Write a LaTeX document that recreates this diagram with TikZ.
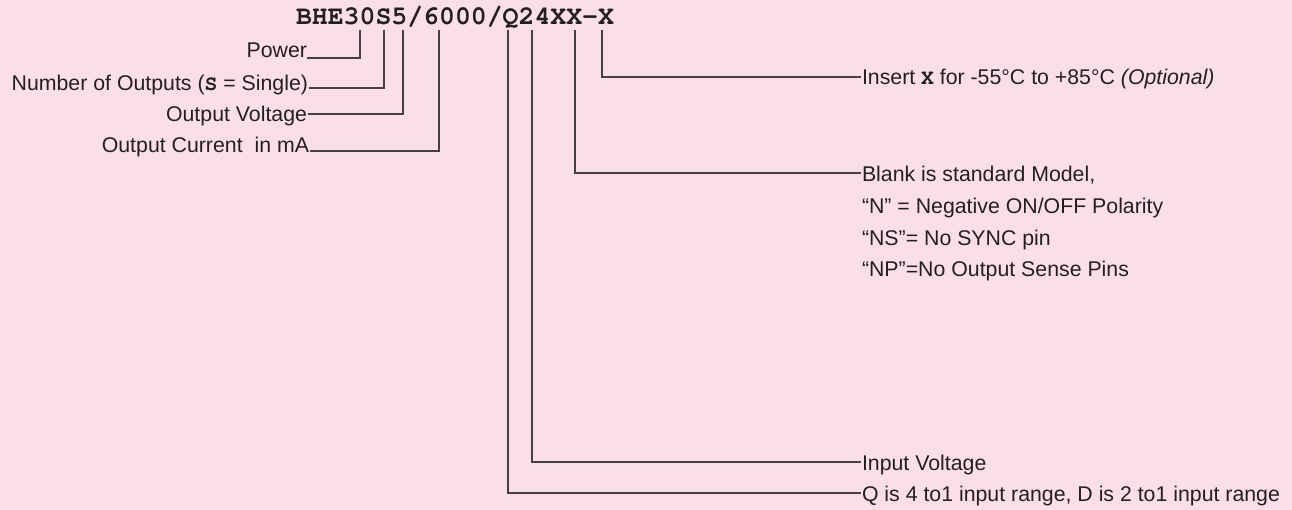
\documentclass[tikz,border=0pt]{standalone}
\usepackage{fontspec}
\setmainfont{Liberation Sans}
\newfontfamily\monofont{TeX Gyre Cursor}
\definecolor{bg}{RGB}{252,222,233}
\definecolor{ink}{RGB}{35,31,32}
\definecolor{wire}{RGB}{72,62,68}
\tikzset{
  lbl/.style={inner sep=0pt, outer sep=0pt, text=ink, font=\fontsize{21.3}{25}\selectfont},
  lblL/.style={lbl, anchor=base east},
  lblR/.style={lbl, anchor=base west},
  conn/.style={draw=wire, line width=1.4pt, line join=miter}
}
\newcommand{\mb}[1]{{\monofont\bfseries #1}}
\begin{document}
\begin{tikzpicture}[x=1pt,y=-1pt]
\fill[bg] (0,0) rectangle (1292,510);
\useasboundingbox (0,0) rectangle (1292,510);
% title
\node[lbl, anchor=base west, font=\fontsize{26.5}{30}\selectfont\monofont\bfseries] (title) at (296,25) {BHE30S5/6000/Q24XX-X};
% tops of leaders
\coordinate (tPow) at (360,30);
\coordinate (tNum) at (384,30);
\coordinate (tOV) at (403,30);
\coordinate (tOC) at (439,30);
\coordinate (tQ) at (508,30);
\coordinate (tIV) at (532,30);
\coordinate (tBl) at (575,30);
\coordinate (tIns) at (602,30);
% left labels
\node[lblL] (pow) at (307,58) {Power};
\node[lblL] (num) at (308,91) {Number of Outputs (\mb{S} = Single)};
\node[lblL] (ov) at (307,122) {Output Voltage};
\node[lblL] (oc) at (309,153) {Output Current\ \ in mA};
\coordinate (ePow) at (307,58);
\coordinate (eNum) at (309,88);
\coordinate (eOV) at (308,114);
\coordinate (eOC) at (310,151);
% right labels
\node[lblR] (ins) at (862,85) {Insert \mb{X} for -55°C to +85°C \textit{(Optional)}};
\node[lblR] (bl1) at (862,182) {Blank is standard Model,};
\node[lblR] (bl2) at (862,213.7) {“N” = Negative ON/OFF Polarity};
\node[lblR] (bl3) at (862,245.4) {“NS”= No SYNC pin};
\node[lblR] (bl4) at (862,277) {“NP”=No Output Sense Pins};
\node[lblR] (iv) at (862,470) {Input Voltage};
\node[lblR] (qr) at (862,501) {Q is 4 to1 input range, D is 2 to1 input range};
\coordinate (eIns) at (861,77);
\coordinate (eBl) at (861,173);
\coordinate (eIV) at (861,462);
\coordinate (eQ) at (861,493);
% connectors
\draw[conn] (tPow) |- (ePow);
\draw[conn] (tNum) |- (eNum);
\draw[conn] (tOV) |- (eOV);
\draw[conn] (tOC) |- (eOC);
\draw[conn] (tIns) |- (eIns);
\draw[conn] (tBl) |- (eBl);
\draw[conn] (tIV) |- (eIV);
\draw[conn] (tQ) |- (eQ);
\end{tikzpicture}
\end{document}
